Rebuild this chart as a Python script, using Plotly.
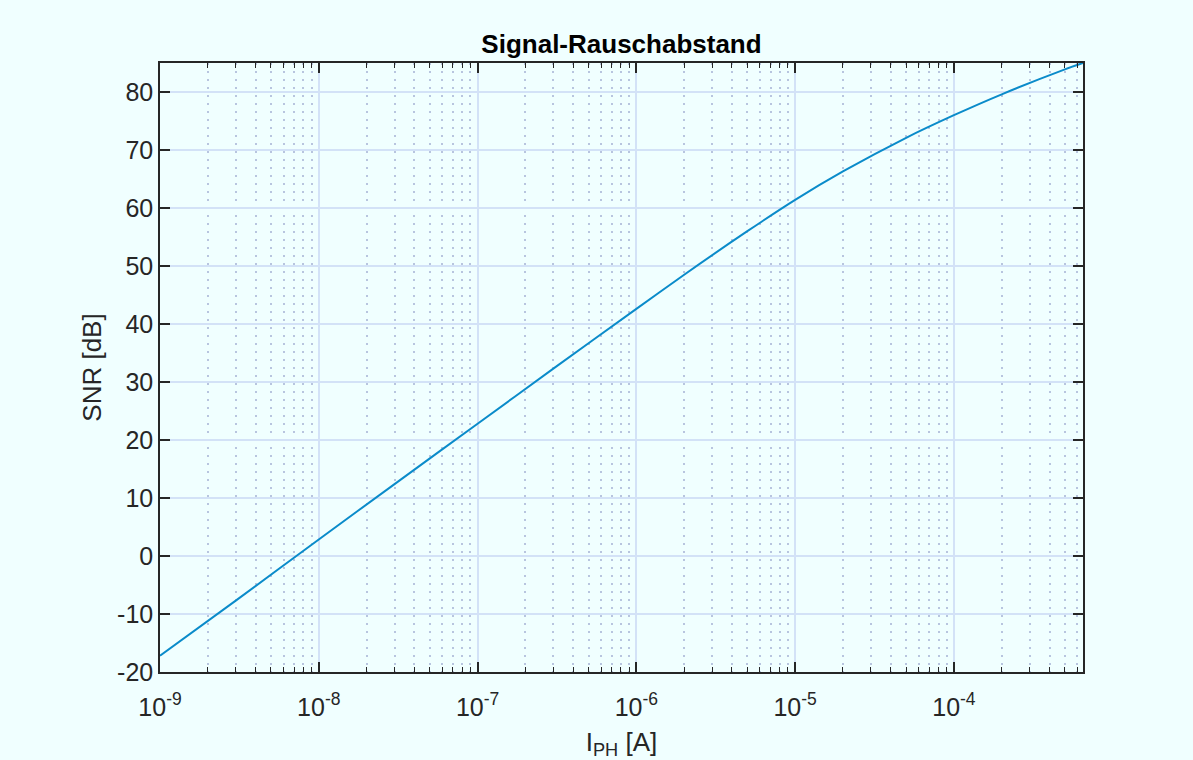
import math
import plotly.graph_objects as go

# ---- data ----
photocurrent_A = [1e-9, 3e-9, 1e-8, 3e-8, 1e-7, 3e-7, 1e-6, 2e-6, 5e-6,
                  1e-5, 2e-5, 5e-5, 1e-4, 2e-4, 5e-4, 6.5e-4]
snr_dB = [-17.2, -7.7, 2.85, 12.4, 22.8, 32.3, 42.6, 48.5, 56.0,
          61.4, 66.3, 72.1, 76.0, 79.6, 83.9, 85.0]

x_tick_vals = [1e-9, 1e-8, 1e-7, 1e-6, 1e-5, 1e-4]
x_tick_text = ["10<sup>-9</sup>", "10<sup>-8</sup>", "10<sup>-7</sup>",
               "10<sup>-6</sup>", "10<sup>-5</sup>", "10<sup>-4</sup>"]
y_tick_vals = [-20, -10, 0, 10, 20, 30, 40, 50, 60, 70, 80]
y_tick_text = ["-20", "-10", "0", "10", "20", "30", "40", "50", "60", "70", "80"]

x_min, x_max = 1e-9, 6.5e-4
y_min, y_max = -20, 85

BG = "#F0FFFF"
AX = "#262626"
GRID = "#d3e2f7"
MINOR = "#b8c5df"
LINE = "#0a8bca"
FONT = "Liberation Sans, Arial, Helvetica, sans-serif"

fig = go.Figure()
fig.add_trace(go.Scatter(
    x=photocurrent_A, y=snr_dB, mode="lines",
    line=dict(color=LINE, width=2, shape="spline", smoothing=0.8),
    showlegend=False, hoverinfo="x+y",
))

fig.update_layout(
    width=1193, height=760,
    paper_bgcolor=BG, plot_bgcolor=BG,
    margin=dict(l=160, r=110, t=63, b=88),
    font=dict(family=FONT, size=25, color=AX),
    title=dict(text="<b>Signal-Rauschabstand</b>", x=0.5, xref="paper",
               xanchor="center", y=1 - 44 / 760, yref="container", yanchor="middle",
               font=dict(family=FONT, size=26, color="#000000")),
)

fig.update_xaxes(
    type="log", range=[math.log10(x_min), math.log10(x_max)],
    automargin=False,
    tickmode="array", tickvals=x_tick_vals, ticktext=x_tick_text,
    ticks="inside", ticklen=10, tickwidth=1.5, tickcolor=AX,
    ticklabelstandoff=12,
    showline=True, linecolor=AX, linewidth=1.5, mirror="ticks",
    showgrid=True, gridcolor=GRID, gridwidth=1.5,
    zeroline=False,
    minor=dict(ticks="inside", ticklen=5, tickwidth=1.2, tickcolor=AX,
               showgrid=True, gridcolor=MINOR, griddash="1.5px,6.5px", gridwidth=1.5,
               dtick="D1"),
    tickfont=dict(size=25, color=AX),
    title=dict(text="I<sub>PH</sub> [A]", font=dict(size=26, color=AX), standoff=14),
)
fig.update_yaxes(
    range=[y_min, y_max],
    automargin=False,
    tickmode="array", tickvals=y_tick_vals, ticktext=y_tick_text,
    ticks="inside", ticklen=10, tickwidth=1.5, tickcolor=AX,
    showline=True, linecolor=AX, linewidth=1.5, mirror="ticks",
    showgrid=True, gridcolor=GRID, gridwidth=1.5,
    zeroline=False,
    tickfont=dict(size=25, color=AX),
    title=dict(text="SNR [dB]", font=dict(size=26, color=AX), standoff=8),
)

fig.write_html("out.html")
